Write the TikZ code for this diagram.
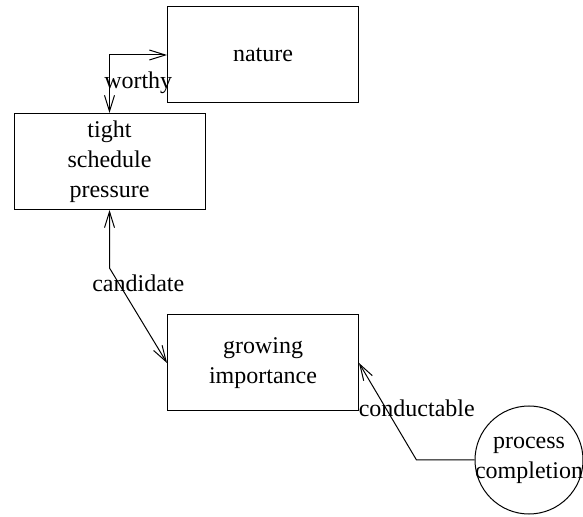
\documentclass[tikz,border=0pt]{standalone}
\usepackage{fontspec}
\setmainfont{Liberation Serif}
\usetikzlibrary{arrows.meta,positioning,calc}
\newcommand{\labelfont}{\fontsize{12}{15}\selectfont}
\tikzset{
  box/.style={draw=black, line width=0.5pt, minimum width=95.5pt,
              minimum height=48pt, align=center, inner sep=2pt, font=\labelfont},
  bubble/.style={draw=black, circle, line width=0.5pt, minimum size=54pt,
                 inner sep=-5pt, align=center, font=\labelfont},
  link/.style={line width=0.5pt, draw=black},
  oneway/.style={link, -{Straight Barb[length=8pt,width=5pt]}},
  twoway/.style={link, {Straight Barb[length=8pt,width=5pt]}-{Straight Barb[length=8pt,width=5pt]}},
  tag/.style={anchor=mid, inner sep=0pt, font=\labelfont}
}
\begin{document}
\begin{tikzpicture}[x=0.5pt,y=-0.5pt]
        \useasboundingbox (0,0) rectangle (583,517);
        \node[box] (nature) at (263,55) {nature};
        \node[box] (tight) at (109.5,161.5) {tight\\schedule\\pressure};
        \node[box] (growing) at (263,363) {growing\\importance};
        \node[bubble] (proc) at (529,460) {process\\completion};
        \coordinate (candbend) at ($(tight.south)+(0,58)$);
        \coordinate (condbend) at ($(proc.west)+(-58,0)$);
        \draw[twoway] (nature.west) -| (tight.north);
        \draw[twoway] (tight.south) -- (candbend) -- (growing.west);
        \draw[oneway] (proc.west) -- (condbend) -- (growing.east);
        \node[tag] (worthylbl) at ($(nature.west)!0.5!(tight.north)$) {worthy};
        \node[tag] (candlbl) at ($(tight.south)!0.5!(growing.west)$) {candidate};
        \node[tag] (condlbl) at ($(growing.east)!0.5!(proc.west)$) {conductable};
      \end{tikzpicture}
\end{document}
